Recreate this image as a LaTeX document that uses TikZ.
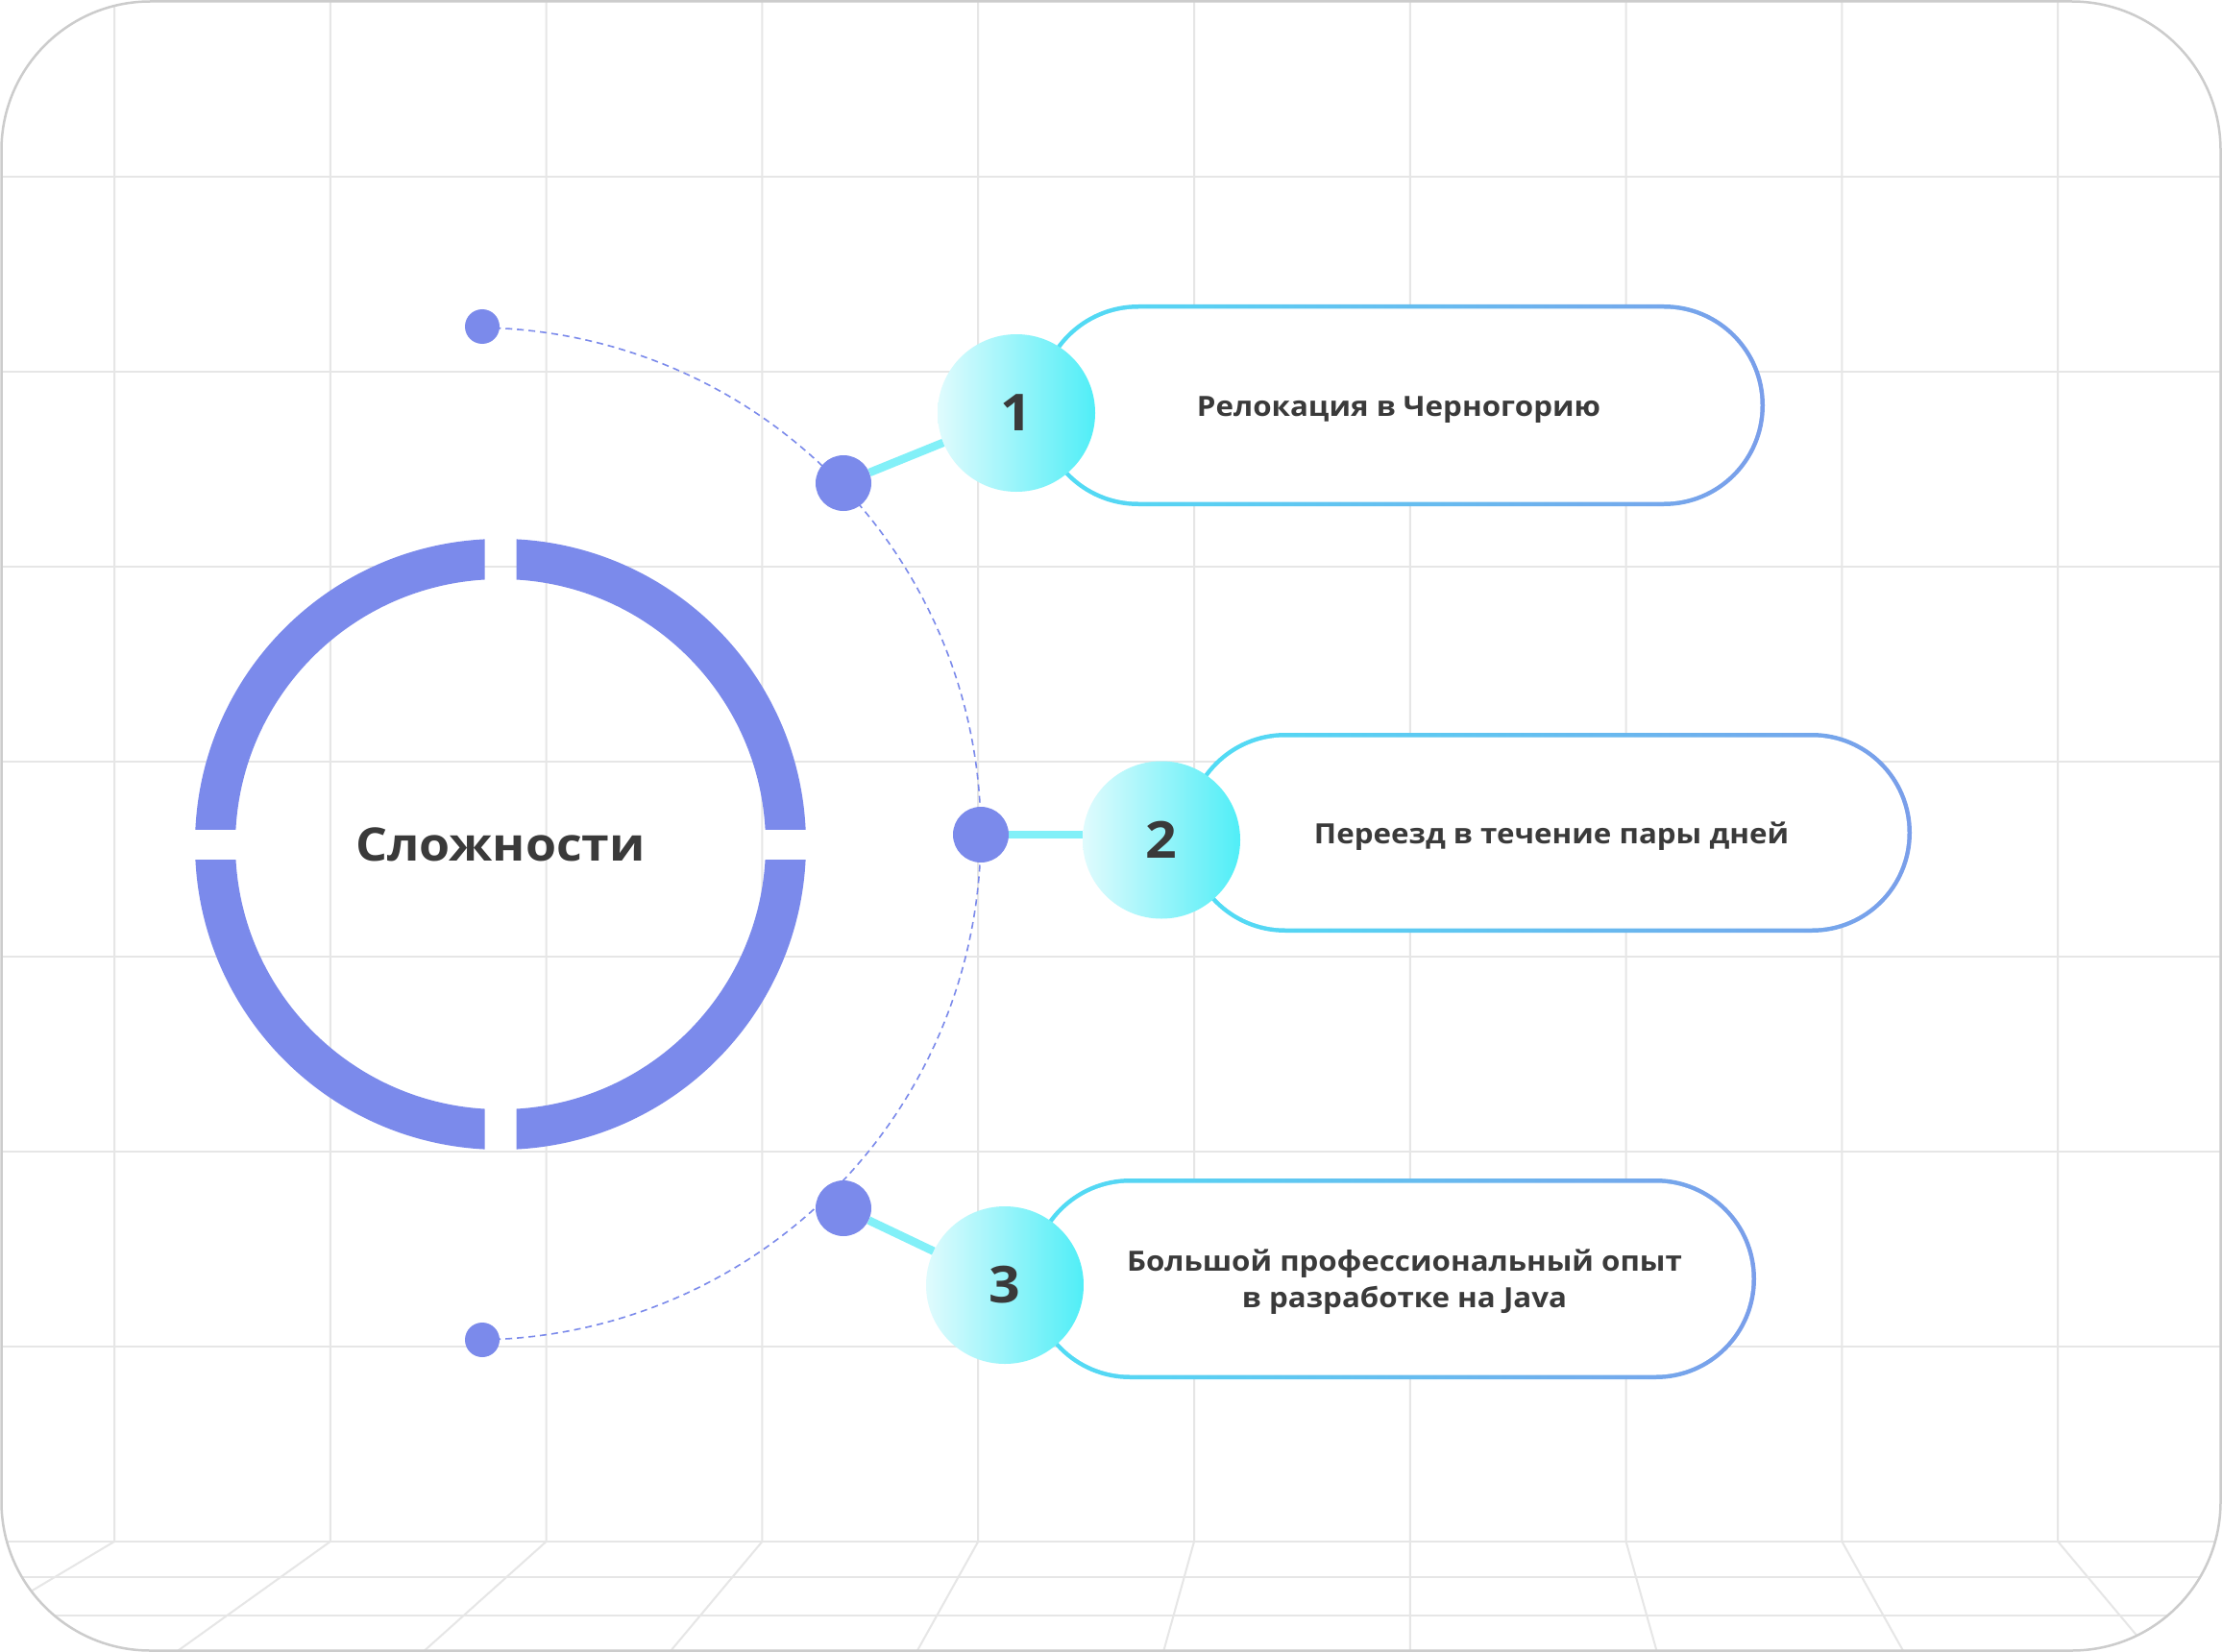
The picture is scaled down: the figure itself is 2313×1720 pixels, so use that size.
\documentclass[tikz,border=0pt]{standalone}
\usepackage{fontspec}
\setmainfont{Open Sans}[FakeStretch=1.08]
\usetikzlibrary{shapes.misc}
\definecolor{gridc}{RGB}{230,230,230}
\definecolor{framec}{RGB}{204,204,204}
\definecolor{dotc}{RGB}{123,138,235}
\definecolor{txtc}{RGB}{58,58,58}
\definecolor{cyl}{RGB}{224,251,253}
\definecolor{cyd}{RGB}{80,238,247}
\definecolor{pl}{RGB}{80,222,245}
\definecolor{pr}{RGB}{122,158,234}
\definecolor{connc}{RGB}{130,240,248}
\begin{document}
\begin{tikzpicture}[x=1pt,y=-1pt,
  gridline/.style={draw=gridc, line width=2pt},
  bigdot/.style={circle, fill=dotc, minimum size=58pt, inner sep=0pt},
  smalldot/.style={circle, fill=dotc, minimum size=36pt, inner sep=0pt},
  numcirc/.style={circle, minimum size=164pt, inner sep=0pt, left color=cyl, right color=cyd, text=txtc, font=\fontsize{53pt}{53pt}\selectfont\bfseries},
  pillout/.style={rounded rectangle, inner sep=0pt, left color=pl, right color=pr},
  pillin/.style={rounded rectangle, inner sep=0pt, fill=white},
  ptext/.style={text=txtc, inner sep=0pt, font=\fontsize{29pt}{38pt}\selectfont\bfseries},
  conn/.style={draw=connc, line width=8.5pt},
  arcline/.style={draw=dotc, line width=1.6pt, dash pattern=on 7pt off 5pt}
]
\useasboundingbox (0,0) rectangle (2313,1720);
\fill[white] (0,0) rectangle (2313,1720);
% grid clipped to frame
\begin{scope}
  \clip[rounded corners=155pt] (1.5,1.5) rectangle (2311.5,1718.5);
  \foreach \k in {0,...,9} {
    \pgfmathsetmacro\xk{119+224.8*\k}
    \pgfmathsetmacro\xe{\xk+(\xk-1467)*0.1429}
    \draw[gridline] (\xk,-5) -- (\xk,1605) -- (\xe,1720);
  }
  \foreach \yy in {184,387,590,793,996,1199,1402,1605,1642,1682}
    \draw[gridline] (-5,\yy) -- (2320,\yy);
\end{scope}
\draw[framec, line width=2.5pt, rounded corners=155pt] (1.5,1.5) rectangle (2311.5,1718.5);

% ring
\foreach \sx/\sy in {1/1,1/-1,-1/1,-1/-1} {
  \begin{scope}
    \clip (521+\sx*16.5, 879+\sy*16) rectangle (521+\sx*340, 879+\sy*340);
    \fill[dotc, even odd rule] (521,879) circle[radius=318] (521,879) circle[radius=276];
  \end{scope}
}
\node[text=txtc, inner sep=0pt, anchor=base, font=\fontsize{48pt}{48pt}\selectfont\bfseries] (title) at (521,896) {Сложности};

% dashed arc
\draw[arcline] plot[domain=-89.1:89.1, samples=120, variable=\t] ({494+527*cos(\t)},{868+527*sin(\t)});

% pills
\node[pillout, minimum width=757pt, minimum height=210pt] (p1) at (1458.5,422) {};
\node[pillin, minimum width=748pt, minimum height=201pt] (p1in) at (p1.center) {};
\node[pillout, minimum width=756pt, minimum height=208pt] (p2) at (1612,867) {};
\node[pillin, minimum width=747pt, minimum height=199pt] (p2in) at (p2.center) {};
\node[pillout, minimum width=756pt, minimum height=209pt] (p3) at (1450,1331.5) {};
\node[pillin, minimum width=747pt, minimum height=200pt] (p3in) at (p3.center) {};

\node[ptext, anchor=base] (t1) at (1456,433) {Релокация в Черногорию};
\node[ptext, anchor=base] (t2) at (1615,878) {Переезд в течение пары дней};
\node[ptext, anchor=base] (t3a) at (1462,1323) {Большой профессиональный опыт};
\node[ptext, anchor=base] (t3b) at (1462,1361) {в разработке на Java};

% number circles
\node[numcirc] (c1) at (1058,430) {1};
\node[numcirc] (c2) at (1209,874.5) {2};
\node[numcirc] (c3) at (1046,1338) {3};

% dots
\node[smalldot] (s1) at (502,340) {};
\node[smalldot] (s2) at (502,1395) {};
\node[bigdot] (d1) at (878,503) {};
\node[bigdot] (d2) at (1021,869) {};
\node[bigdot] (d3) at (878,1258) {};

% connectors
\draw[conn] (d1) -- (c1);
\draw[conn] (d2) -- (d2 -| c2.west);
\draw[conn] (d3) -- (c3);
\end{tikzpicture}
\end{document}
